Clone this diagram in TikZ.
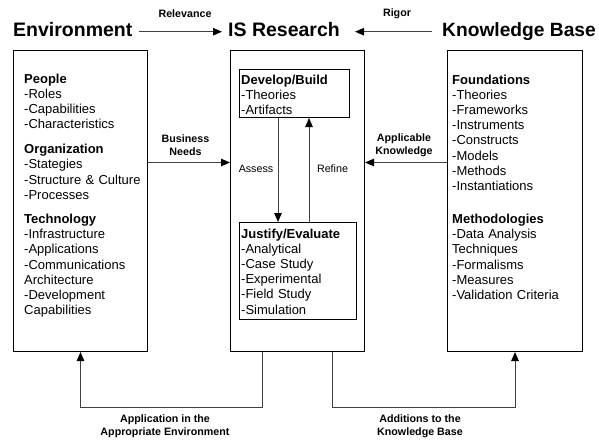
\documentclass[tikz,border=0pt]{standalone}
\usepackage{fontspec}
\setmainfont{Liberation Sans}
\usetikzlibrary{arrows.meta}
\begin{document}
\begin{tikzpicture}[x=1pt,y=-1pt,
  bigbox/.style={draw, line width=1pt, anchor=north west, inner sep=0},
  body/.style={anchor=base west, inner sep=0, align=left, text width=#1,
    font=\fontsize{13}{15.2}\selectfont},
  title/.style={anchor=base west, inner sep=0, text height=14pt, text depth=4pt,
    font=\fontsize{19.5}{22}\selectfont\bfseries},
  lbl/.style={align=center, inner sep=0, font=\fontsize{10.7}{13}\selectfont\bfseries},
  slbl/.style={align=center, inner sep=0, font=\fontsize{10.7}{13}\selectfont},
  arr/.style={draw=black!75, line width=1pt, -{Triangle[length=9pt,width=7.5pt,color=black]}}
]
\useasboundingbox (0,0) rectangle (599,442);

% titles
\node[title] (envt) at (13,36.7) {Environment};
\node[title] (ist) at (228,36.7) {IS Research};
\node[title, font=\fontsize{19.2}{22}\selectfont\bfseries] (kbt) at (442,36.7) {Knowledge Base};
\draw[arr, shorten <=6pt, shorten >=6pt] (envt.east) -- (ist.west);
\draw[arr, shorten <=10pt, shorten >=15pt] (kbt.west) -- (ist.east);
\node[lbl] (rel) at (185,14) {Relevance};
\node[lbl] (rig) at (397,14) {Rigor};

% outer boxes
\node[bigbox, minimum width=134pt, minimum height=301pt] (env) at (13,50) {};
\node[bigbox, minimum width=134pt, minimum height=301pt] (isr) at (230,50) {};
\node[bigbox, minimum width=135pt, minimum height=301pt] (kb) at (447,50) {};

% left text
\node[body=120pt] (envtxt) at (24,83) {\textbf{People}\\-Roles\\-Capabilities\\-Characteristics\\[9.8pt]%
\textbf{Organization}\\-Stategies\\-Structure \& Culture\\-Processes\\[9pt]%
\textbf{Technology}\\-Infrastructure\\-Applications\\-Communications\\Architecture\\-Development\\Capabilities};

% right text
\node[body=125pt] (kbtxt) at (452,84) {\textbf{Foundations}\\-Theories\\-Frameworks\\-Instruments\\-Constructs\\-Models\\-Methods\\-Instantiations\\[17.8pt]%
\textbf{Methodologies}\\-Data Analysis\\Techniques\\-Formalisms\\-Measures\\-Validation Criteria};

% inner boxes
\node[bigbox, minimum width=110pt, minimum height=48pt] (dev) at (239,69) {};
\node[bigbox, minimum width=117pt, minimum height=97pt] (just) at (239,222) {};
\node[body=105pt] (devtxt) at (241,84) {\textbf{Develop/Build}\\-Theories\\-Artifacts};
\node[body=112pt] (justtxt) at (241,238) {\textbf{Justify/Evaluate}\\-Analytical\\-Case Study\\-Experimental\\-Field Study\\-Simulation};

% assess / refine
\coordinate (ax) at (278,0);
\coordinate (rx) at (309,0);
\draw[arr] (dev.south -| ax) -- (just.north -| ax);
\draw[arr] (just.north -| rx) -- (dev.south -| rx);
\node[slbl] (assess) at (256,169) {Assess};
\node[slbl] (refine) at (332.5,169) {Refine};

% side arrows
\coordinate (bn) at (0,162.5);
\draw[arr] (env.east |- bn) -- (isr.west |- bn);
\draw[arr] (kb.west |- bn) -- (isr.east |- bn);
\node[lbl] (bneeds) at (185.5,145.5) {Business\\Needs};
\node[lbl] (aknow) at (404,145.5) {Applicable\\Knowledge};

% bottom arrows
\coordinate (a1) at (262,407);
\coordinate (a2) at (332,407);
\draw[arr] (isr.south -| a1) -- (a1) -| (env.south);
\draw[arr] (isr.south -| a2) -- (a2) -| (kb.south);
\node[lbl] (appl) at (165,426) {Application in the\\Appropriate Environment};
\node[lbl] (addk) at (420,426) {Additions to the\\Knowledge Base};
\end{tikzpicture}
\end{document}
